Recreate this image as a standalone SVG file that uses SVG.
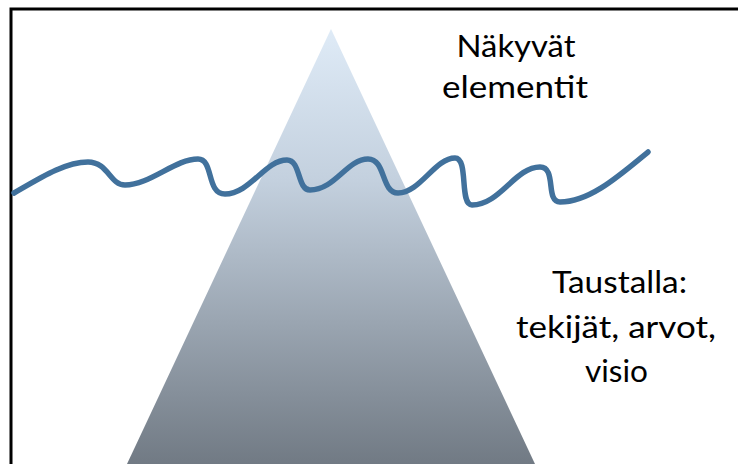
<svg xmlns="http://www.w3.org/2000/svg" width="738" height="464" viewBox="0 0 738 464">
<style>
.lbl{font-family:"Lato","Open Sans","Liberation Sans",sans-serif;font-size:30px;fill:#000;text-anchor:middle}
.wave{fill:none;stroke:#41719c;stroke-width:5.5;stroke-linecap:round;stroke-linejoin:round}
</style>
<defs>
<linearGradient id="g" x1="0" y1="0" x2="0" y2="1">
<stop offset="0" stop-color="#dfebf7"/>
<stop offset="0.35" stop-color="#c3d0de"/>
<stop offset="1" stop-color="#717a84"/>
</linearGradient>
</defs>
<rect width="738" height="464" fill="#fff"/>
<path d="M11,464 V9 H738" fill="none" stroke="#000" stroke-width="3"/>
<g id="iceberg">
<polygon points="331,29 535,464 127,464" fill="url(#g)"/>
</g>
<g id="connectors">
<path class="wave" d="M14,193 C40,178 65,162 88,162 C108,162 110,185 125,185 C150,185 175,159 198,159 C214,159 206,194 225,194 C250,194 265,160 287,160 C301,160 297,190 310,190 C335,190 347,159 368,159 C386,159 381,193 398,193 C420,193 435,158 455,158 C469,158 459,205 472,205 C500,205 515,167 540,167 C557,167 545,202 560,202 C590,202 620,175 648,152"/>
</g>
<g id="visible">
<text class="lbl" x="516" y="57" textLength="119" lengthAdjust="spacingAndGlyphs">Näkyvät</text>
<text class="lbl" x="515" y="98" textLength="146" lengthAdjust="spacingAndGlyphs">elementit</text>
</g>
<g id="background">
<text class="lbl" x="619.5" y="293" textLength="135" lengthAdjust="spacingAndGlyphs">Taustalla:</text>
<text class="lbl" x="616" y="338" textLength="200" lengthAdjust="spacingAndGlyphs">tekijät, arvot,</text>
<text class="lbl" x="616.5" y="382" textLength="63" lengthAdjust="spacingAndGlyphs">visio</text>
</g>
</svg>
